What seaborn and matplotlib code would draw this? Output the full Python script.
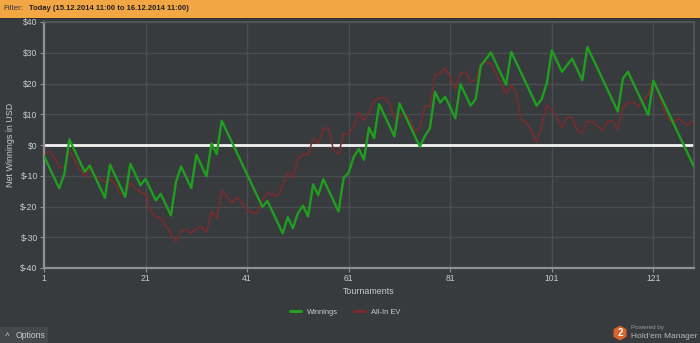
import matplotlib
matplotlib.use("Agg")
import matplotlib.pyplot as plt
from matplotlib.patches import Rectangle, RegularPolygon
from matplotlib.lines import Line2D
import seaborn as sns
import pandas as pd

# Cumulative net result after each tournament
tournaments = list(range(1, 130))
winnings = [
    -3.6, -7.1, -10.6, -14.1, -9.5, 1.8, -1.7, -5.2, -8.7, -6.7,
    -10.2, -13.7, -17.2, -6.4, -9.9, -13.4, -16.9, -6.1, -9.6, -13.1,
    -11.0, -14.5, -18.0, -15.9, -19.4, -22.9, -11.9, -7.0, -10.5, -14.0,
    -3.2, -6.7, -10.2, 0.5, -3.0, 7.9, 4.4, 0.9, -2.6, -6.1,
    -9.6, -13.1, -16.6, -20.1, -18.2, -21.7, -25.2, -28.7, -23.5, -27.0,
    -22.2, -19.7, -23.2, -12.8, -16.3, -11.1, -14.6, -18.1, -21.6, -10.7,
    -9.0, -3.8, -1.3, -4.8, 5.7, 2.2, 13.3, 9.8, 6.3, 2.8,
    13.5, 10.0, 6.5, 3.0, -0.5, 2.9, 5.5, 17.3, 13.8, 15.7,
    12.2, 8.7, 19.8, 16.3, 12.8, 14.9, 25.7, 27.9, 30.1, 26.6,
    23.1, 19.6, 30.3, 26.8, 23.3, 19.8, 16.3, 12.8, 14.9, 20.0,
    30.8, 27.3, 23.8, 26.0, 28.1, 24.6, 21.1, 31.9, 28.4, 24.9,
    21.4, 17.9, 14.4, 10.9, 21.6, 23.8, 20.3, 16.8, 13.3, 9.8,
    20.9, 17.4, 13.9, 10.4, 6.9, 3.4, -0.1, -3.6, -7.1,
]
allin_ev = [
    -2.7, -2.0, -4.0, -7.4, -7.4, -1.8, -4.9, -7.8, -10.3, -7.6,
    -10.5, -10.9, -12.2, -11.1, -12.7, -15.9, -16.0, -12.2, -14.1, -15.3,
    -15.9, -21.4, -23.5, -23.8, -26.3, -29.0, -31.4, -28.1, -27.4, -28.7,
    -27.4, -26.5, -28.4, -21.6, -23.8, -14.9, -16.8, -18.9, -17.0, -18.9,
    -21.1, -22.0, -22.2, -17.9, -15.7, -16.2, -16.6, -13.0, -8.7, -10.8,
    -4.6, -3.0, -3.2, 2.2, 0.5, 5.4, 5.6, -1.6, -3.0, 3.6,
    3.5, 6.2, 10.5, 7.9, 10.8, 14.4, 15.3, 15.3, 13.5, 8.9,
    8.9, 10.3, 8.7, 4.3, 5.7, 12.7, 12.4, 22.7, 23.3, 24.9,
    22.2, 18.1, 23.3, 23.8, 20.6, 21.1, 26.3, 27.0, 26.5, 23.3,
    19.8, 16.8, 19.5, 16.8, 8.1, 7.6, 4.3, 0.8, 6.5, 12.8,
    11.4, 8.7, 5.7, 9.2, 9.0, 4.9, 3.8, 7.6, 7.6, 6.2,
    4.6, 7.6, 7.9, 5.1, 12.4, 13.9, 13.9, 12.4, 14.6, 16.2,
    21.1, 16.8, 11.9, 8.3, 7.2, 8.7, 7.2, 6.5, 8.7,
]
series_names = ["Winnings", "All-In EV"]
x_ticks = [1, 21, 41, 61, 81, 101, 121]
y_ticks = [-40, -30, -20, -10, 0, 10, 20, 30, 40]

BG = "#383b3e"
GRID = "#4b4e51"
FRAME = "#8e9194"
TEXT = "#c9cbcd"
GREEN = "#1f9e1f"
RED = "#7c2b2d"

sns.set_theme(style="dark", rc={
    "axes.facecolor": BG,
    "figure.facecolor": BG,
    "axes.edgecolor": FRAME,
    "grid.color": GRID,
    "text.color": TEXT,
    "axes.labelcolor": TEXT,
    "xtick.color": TEXT,
    "ytick.color": TEXT,
})
plt.rcParams["font.family"] = ["Liberation Sans", "DejaVu Sans"]

df = pd.DataFrame({
    "Tournament": tournaments * 2,
    "Net": winnings + allin_ev,
    "Series": [series_names[0]] * len(winnings) + [series_names[1]] * len(allin_ev),
})

fig = plt.figure(figsize=(7.0, 3.43), dpi=100)
ax = fig.add_axes([44 / 700, 1 - 268 / 343, 650 / 700, 246 / 343])

# grid and zero line below the series
ax.set_axisbelow(True)
ax.grid(True, color=GRID, linewidth=1.0)
ax.axhline(0, color="#f2f2f2", linewidth=2.0, zorder=1.5)

sns.lineplot(data=df[df.Series == "All-In EV"], x="Tournament", y="Net",
             color=RED, linewidth=1.1, ax=ax, zorder=2, legend=False)
sns.lineplot(data=df[df.Series == "Winnings"], x="Tournament", y="Net",
             color=GREEN, linewidth=1.7, ax=ax, zorder=3, legend=False)

ax.set_xlim(1, 129)
ax.set_ylim(-40, 40)
ax.set_xticks(x_ticks)
ax.set_yticks(y_ticks)
ax.set_yticklabels([f"${v}" for v in y_ticks])
ax.tick_params(axis="both", labelsize=6.2, length=3, width=0.8,
               color=FRAME, pad=1.5, bottom=True, left=True)
ax.set_xlabel("Tournaments", fontsize=6.4)
ax.xaxis.set_label_coords(0.5, -(291 - 268) / 246, transform=ax.transAxes)
ax.xaxis.label.set_va("center")
ax.set_ylabel("Net Winnings in USD", fontsize=6.4)
ax.yaxis.set_label_coords(-(44 - 11) / 650, 0.5, transform=ax.transAxes)
ax.yaxis.label.set_va("center")
for side in ["left", "bottom"]:
    ax.spines[side].set_color(FRAME)
    ax.spines[side].set_linewidth(1.6)
for side in ["top", "right"]:
    ax.spines[side].set_color("#55585b")
    ax.spines[side].set_linewidth(1.2)

# legend under the axis title
handles = [Line2D([0], [0], color=GREEN, lw=2.2),
           Line2D([0], [0], color=RED, lw=2.2)]
fig.legend(handles, series_names, loc="center", bbox_to_anchor=(345 / 700, 1 - 312 / 343),
           ncol=2, frameon=False, fontsize=5.4, labelcolor=TEXT,
           handlelength=1.5, columnspacing=2.2, handletextpad=0.7)

# filter bar across the top
fig.add_artist(Rectangle((0, 1 - 18 / 343), 1, 18 / 343, transform=fig.transFigure,
                         facecolor="#f3a744", edgecolor="none", zorder=0))
fig.add_artist(Rectangle((0, 1 - 19 / 343), 1, 1 / 343, transform=fig.transFigure,
                         facecolor="#2c2e30", edgecolor="none", zorder=0))
fig.text(3 / 700, 1 - 9 / 343, "Filter:", fontsize=5.8, color="#3a3a3a",
         va="center", ha="left")
fig.text(29 / 700, 1 - 9 / 343, "Today (15.12.2014 11:00 to 16.12.2014 11:00)",
         fontsize=5.5, color="#222222", fontweight="bold", va="center", ha="left")

# options button in the bottom-left corner
fig.add_artist(Rectangle((0, 0), 48 / 700, 16 / 343, transform=fig.transFigure,
                         facecolor="#45484b", edgecolor="none", zorder=0))
fig.text(5 / 700, 8 / 343, "\u02c4", fontsize=6, color=TEXT, va="center", ha="left")
fig.text(16 / 700, 8 / 343, "Options", fontsize=6.2, color=TEXT, va="center", ha="left")

# branding in the bottom-right corner
fig.add_artist(RegularPolygon((620 / 100, 10 / 100), numVertices=6, radius=0.075,
                              orientation=0, transform=fig.dpi_scale_trans,
                              facecolor="#d9622b", edgecolor="none"))
fig.text(620 / 700, 10 / 343, "2", fontsize=7, color="white", fontweight="bold",
         va="center", ha="center")
fig.text(631 / 700, 16 / 343, "Powered by", fontsize=4.5, color="#9a9c9e",
         va="center", ha="left")
fig.text(631 / 700, 7 / 343, "Hold'em Manager", fontsize=6.0, color="#b5b7b9",
         va="center", ha="left")

fig.savefig("out.png", dpi=100, facecolor=BG)
